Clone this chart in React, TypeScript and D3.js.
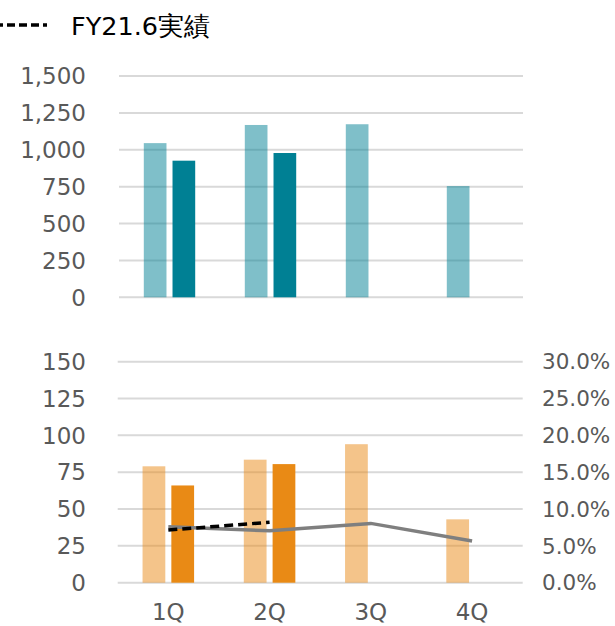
import React from 'react';
import * as d3 from 'd3';

const categories = ['1Q', '2Q', '3Q', '4Q'];

// top chart: sales
const salesPlan = [1045, 1168, 1173, 754];
const salesActual = [926, 978, null, null];
const salesTicks = [0, 250, 500, 750, 1000, 1250, 1500];

// bottom chart: profit + margin
const profitPlan = [79, 83.5, 94, 43];
const profitActual = [66, 80.5, null, null];
const profitTicks = [0, 25, 50, 75, 100, 125, 150];
const marginPlan = [0.076, 0.0705, 0.0805, 0.0565];
const marginActual = [0.0715, 0.082, null, null];
const marginTicks = [0, 0.05, 0.1, 0.15, 0.2, 0.25, 0.3];

const legendLabel = 'FY21.6実績';
const series = ['plan', 'actual'];

const W = 615, H = 626;
const FONT = '"DejaVu Sans", Verdana, sans-serif';
const FS = 23;
const TEXT = '#595959';
const GRID = '#d9d9d9';
const TEAL = '#008094';
const ORANGE = '#e98a15';

const fmt = d3.format(',');
const pct = d3.format('.1%');

type BarsProps = {
    x0: d3.ScaleBand<string>,
    x1: d3.ScaleBand<string>,
    y: d3.ScaleLinear<number, number>,
    plan: (number | null)[],
    actual: (number | null)[],
    color: string,
};

const Bars = ({x0, x1, y, plan, actual, color}: BarsProps) => {
    const base = y(0);
    return (
        <g>
            {categories.map((c, i) => (
                <g key={c} transform={`translate(${x0(c)},0)`}>
                    {plan[i] != null &&
                        <rect x={x1('plan')} y={y(plan[i] as number)} width={x1.bandwidth()}
                              height={base - y(plan[i] as number)} fill={color} fillOpacity={0.5}/>}
                    {actual[i] != null &&
                        <rect x={x1('actual')} y={y(actual[i] as number)} width={x1.bandwidth()}
                              height={base - y(actual[i] as number)} fill={color}/>}
                </g>
            ))}
        </g>
    );
};

const Grid = ({y, ticks, x1, x2}) => (
    <g>
        {ticks.map(t => (
            <line key={t} x1={x1} x2={x2} y1={y(t)} y2={y(t)} stroke={GRID} strokeWidth={2}/>
        ))}
    </g>
);

const makeX = (range: [number, number]) => {
    const x0 = d3.scaleBand<string>().domain(categories).range(range)
        .paddingInner(0.491).paddingOuter(0.2455);
    const x1 = d3.scaleBand<string>().domain(series).range([0, x0.bandwidth()]).paddingInner(0.21);
    return {x0, x1};
};

const App = () => {
    // top
    const topRange: [number, number] = [119, 523];
    const {x0: tx0, x1: tx1} = makeX(topRange);
    const ty = d3.scaleLinear().domain([0, 1500]).range([297.3, 76]);

    // bottom
    const botRange: [number, number] = [117.7, 522.7];
    const {x0: bx0, x1: bx1} = makeX(botRange);
    const by = d3.scaleLinear().domain([0, 150]).range([582.7, 361.7]);
    const byR = d3.scaleLinear().domain([0, 0.3]).range([582.7, 361.7]);
    const cx = (c: string) => (bx0(c) as number) + bx0.bandwidth() / 2;

    const line = d3.line<number | null>()
        .defined(d => d != null)
        .x((_, i) => cx(categories[i]))
        .y(d => byR(d as number));

    return (
        <svg width={W} height={H} style={{position: 'absolute', left: 0, top: 0, background: '#fff'}}
             fontFamily={FONT}>
            {/* legend */}
            <line x1={-5} x2={47} y1={25} y2={25} stroke="#000" strokeWidth={3.5} strokeDasharray="8,4"/>
            <text x={71} y={35} fontSize={25.5} fill="#000">{legendLabel}</text>

            {/* top chart */}
            <Grid y={ty} ticks={salesTicks} x1={topRange[0]} x2={topRange[1]}/>
            <Bars x0={tx0} x1={tx1} y={ty} plan={salesPlan} actual={salesActual} color={TEAL}/>
            {salesTicks.map(t => (
                <text key={t} x={86} y={ty(t)} dy="0.36em" textAnchor="end" fontSize={FS} fill={TEXT}>{fmt(t)}</text>
            ))}

            {/* bottom chart */}
            <Grid y={by} ticks={profitTicks} x1={botRange[0]} x2={botRange[1]}/>
            <Bars x0={bx0} x1={bx1} y={by} plan={profitPlan} actual={profitActual} color={ORANGE}/>
            <path d={line(marginPlan) || ''} fill="none" stroke="#7f7f7f" strokeWidth={3.5}/>
            <path d={line(marginActual) || ''} fill="none" stroke="#000" strokeWidth={3.5}
                  strokeDasharray="9,5"/>
            {profitTicks.map(t => (
                <text key={t} x={86} y={by(t)} dy="0.36em" textAnchor="end" fontSize={FS} fill={TEXT}>{t}</text>
            ))}
            {marginTicks.map(t => (
                <text key={t} x={542} y={byR(t)} dy="0.36em" textAnchor="start" fontSize={21.5} fill={TEXT}>{pct(t)}</text>
            ))}
            {categories.map(c => (
                <text key={c} x={cx(c)} y={620} textAnchor="middle" fontSize={FS} fill={TEXT}>{c}</text>
            ))}
        </svg>
    );
};

export default App;
